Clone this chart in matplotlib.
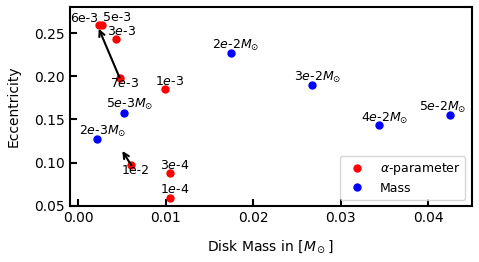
import matplotlib
matplotlib.use('Agg')
import matplotlib.pyplot as plt

# alpha-parameter runs
alpha_mass = [0.00235, 0.00264, 0.00433, 0.0047, 0.00987, 0.00605, 0.01045, 0.01045]
alpha_ecc = [0.2588, 0.2588, 0.2436, 0.1985, 0.1849, 0.097, 0.088, 0.059]
alpha_labels = ['6e-3', '5e-3', r'3$e$-3', r'7$e$-3', r'1$e$-3', '1e-2', r'3$e$-4', r'1$e$-4']

# disk mass runs
mass_mass = [0.0021, 0.0052, 0.01745, 0.02675, 0.03436, 0.04248]
mass_ecc = [0.1273, 0.158, 0.2273, 0.1902, 0.1436, 0.1553]
mass_labels = [r'2$e$-3$M_{\odot}$', r'5$e$-3$M_{\odot}$', r'2$e$-2$M_{\odot}$',
               r'3$e$-2$M_{\odot}$', r'4$e$-2$M_{\odot}$', r'5$e$-2$M_{\odot}$']

# arrows: start at an alpha point, end at (x, y)
arrow_start = [3, 5]
arrow_end = [(0.00233, 0.255), (0.00502, 0.1136)]

# label offsets (points)
alpha_off = [(-11, 5), (11.5, 5.4), (3.8, 5.2), (3.6, -4.3), (3.6, 5.8), (3.5, -4.1), (3.6, 5.6), (3.6, 6.1)]
mass_off = [(4.1, 5.5), (4.1, 5.5), (3.6, 5.5), (4, 5.3), (4.1, 4.6), (-5, 5)]

fig, ax = plt.subplots(figsize=(4.79, 2.62), dpi=100)

ax.plot(alpha_mass, alpha_ecc, 'o', color='red', markersize=5, label=r'$\alpha$-parameter')
ax.plot(mass_mass, mass_ecc, 'o', color='blue', markersize=5, label='Mass')

for x, y, t, o in zip(alpha_mass, alpha_ecc, alpha_labels, alpha_off):
    ax.annotate(t, (x, y), xytext=o, textcoords='offset points', ha='center', va='center', fontsize=9)
for x, y, t, o in zip(mass_mass, mass_ecc, mass_labels, mass_off):
    ax.annotate(t, (x, y), xytext=o, textcoords='offset points', ha='center', va='center', fontsize=9)

for i, end in zip(arrow_start, arrow_end):
    ax.annotate('', xy=end, xytext=(alpha_mass[i], alpha_ecc[i]),
                arrowprops=dict(arrowstyle='->', color='black', lw=1.5, shrinkA=0, shrinkB=0))

ax.set_xlim(-0.001, 0.045)
ax.set_ylim(0.05, 0.28)
ax.set_xticks([0.0, 0.01, 0.02, 0.03, 0.04])
ax.set_yticks([0.05, 0.10, 0.15, 0.20, 0.25])
ax.tick_params(direction='in', length=5, width=1.5, labelsize=10)
for s in ax.spines.values():
    s.set_linewidth(1.5)

ax.set_xlabel(r'Disk Mass in [$M_\odot$]', fontsize=10, labelpad=9.5)
ax.set_ylabel('Eccentricity', fontsize=10, labelpad=10)
ax.legend(loc='lower right', fontsize=9, labelspacing=0.35)

fig.subplots_adjust(left=0.1455, right=0.9848, top=0.973, bottom=0.214)
fig.savefig('out.png', dpi=100)
